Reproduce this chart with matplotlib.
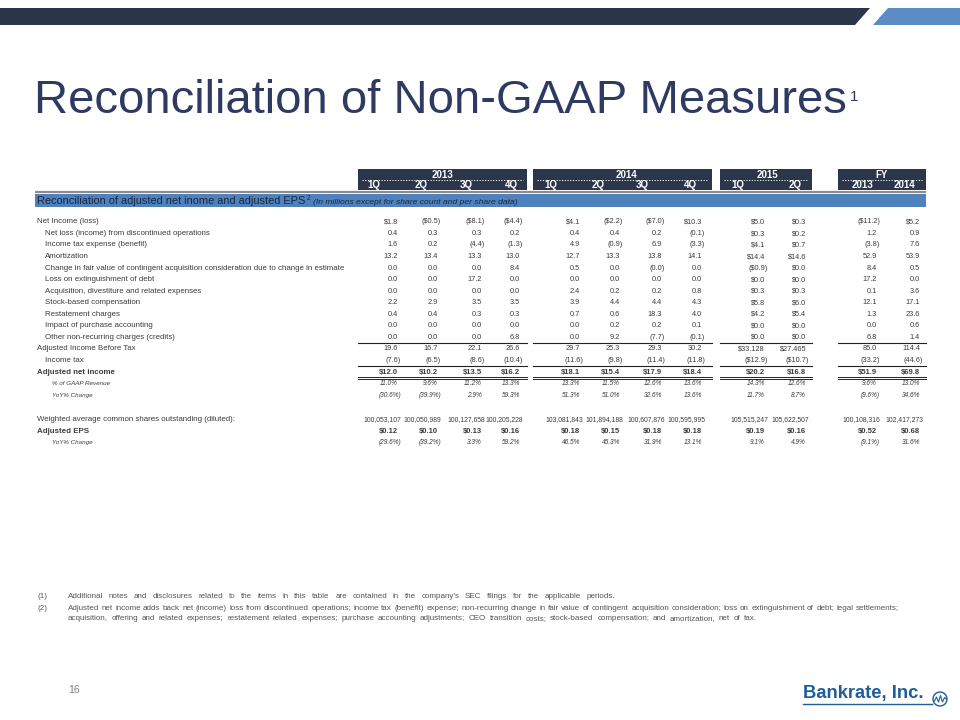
import matplotlib
matplotlib.use("Agg")
import matplotlib.pyplot as plt
from matplotlib.patches import Polygon, Rectangle, Circle

plt.rcParams['font.family'] = ['Liberation Sans', 'DejaVu Sans']

# ---------------- data ----------------
title = "Reconciliation of Non-GAAP Measures"
years = ["2013", "2014", "2015", "FY"]
quarters = ["1Q", "2Q", "3Q", "4Q", "1Q", "2Q", "3Q", "4Q", "1Q", "2Q", "2013", "2014"]

banner_text = "Reconciliation of adjusted net inome and adjusted EPS"
banner_note = "(In millions except for share count and per share data)"

labels = [
    "Net Income (loss)",
    "Net loss (income) from discontinued operations",
    "Income tax expense (benefit)",
    "Amortization",
    "Change in fair value of contingent acquisition consideration due to change in estimate",
    "Loss on extinguishment of debt",
    "Acquisition, divestiture and related expenses",
    "Stock-based compensation",
    "Restatement charges",
    "Impact of purchase accounting",
    "Other non-recurring charges (credits)",
    "Adjusted Income Before Tax",
    "Income tax",
    "Adjusted net income",
    "% of GAAP Revenue",
    "YoY% Change",
    "Weighted average common shares outstanding (diluted):",
    "Adjusted EPS",
    "YoY% Change",
]

net_income = ["$1.8", "($0.5)", "($8.1)", "($4.4)", "$4.1", "($2.2)", "($7.0)", "$10.3", "$5.0", "$0.3", "($11.2)", "$5.2"]
disc_ops = ["0.4", "0.3", "0.3", "0.2", "0.4", "0.4", "0.2", "(0.1)", "$0.3", "$0.2", "1.2", "0.9"]
income_tax_exp = ["1.6", "0.2", "(4.4)", "(1.3)", "4.9", "(0.9)", "6.9", "(3.3)", "$4.1", "$0.7", "(3.8)", "7.6"]
amortization = ["13.2", "13.4", "13.3", "13.0", "12.7", "13.3", "13.8", "14.1", "$14.4", "$14.6", "52.9", "53.9"]
fair_value_chg = ["0.0", "0.0", "0.0", "8.4", "0.5", "0.0", "(0.0)", "0.0", "($0.9)", "$0.0", "8.4", "0.5"]
debt_loss = ["0.0", "0.0", "17.2", "0.0", "0.0", "0.0", "0.0", "0.0", "$0.0", "$0.0", "17.2", "0.0"]
acquisition = ["0.0", "0.0", "0.0", "0.0", "2.4", "0.2", "0.2", "0.8", "$0.3", "$0.3", "0.1", "3.6"]
stock_comp = ["2.2", "2.9", "3.5", "3.5", "3.9", "4.4", "4.4", "4.3", "$5.8", "$6.0", "12.1", "17.1"]
restatement = ["0.4", "0.4", "0.3", "0.3", "0.7", "0.6", "18.3", "4.0", "$4.2", "$5.4", "1.3", "23.6"]
purchase_acct = ["0.0", "0.0", "0.0", "0.0", "0.0", "0.2", "0.2", "0.1", "$0.0", "$0.0", "0.0", "0.6"]
other_nonrec = ["0.0", "0.0", "0.0", "6.8", "0.0", "9.2", "(7.7)", "(0.1)", "$0.0", "$0.0", "6.8", "1.4"]
adj_before_tax = ["19.6", "16.7", "22.1", "26.6", "29.7", "25.3", "29.3", "30.2", "$33.128", "$27.465", "85.0", "114.4"]
income_tax = ["(7.6)", "(6.5)", "(8.6)", "(10.4)", "(11.6)", "(9.8)", "(11.4)", "(11.8)", "($12.9)", "($10.7)", "(33.2)", "(44.6)"]
adj_net_income = ["$12.0", "$10.2", "$13.5", "$16.2", "$18.1", "$15.4", "$17.9", "$18.4", "$20.2", "$16.8", "$51.9", "$69.8"]
pct_revenue = ["11.0%", "9.6%", "11.2%", "13.3%", "13.3%", "11.5%", "12.6%", "13.6%", "14.3%", "12.6%", "9.6%", "13.0%"]
yoy_income = ["(30.6%)", "(39.9%)", "2.9%", "59.3%", "51.3%", "51.0%", "32.6%", "13.6%", "11.7%", "8.7%", "(9.6%)", "34.6%"]
shares = ["100,053,107", "100,050,989", "100,127,658", "100,205,228", "103,081,843", "101,894,188", "100,607,876",
          "100,595,995", "105,515,247", "105,622,507", "100,108,316", "102,417,273"]
adj_eps = ["$0.12", "$0.10", "$0.13", "$0.16", "$0.18", "$0.15", "$0.18", "$0.18", "$0.19", "$0.16", "$0.52", "$0.68"]
yoy_eps = ["(29.6%)", "(39.2%)", "3.3%", "59.2%", "46.5%", "45.3%", "31.9%", "13.1%", "9.1%", "4.9%", "(9.1%)", "31.6%"]

row_values = [net_income, disc_ops, income_tax_exp, amortization, fair_value_chg, debt_loss, acquisition,
              stock_comp, restatement, purchase_acct, other_nonrec, adj_before_tax, income_tax, adj_net_income,
              pct_revenue, yoy_income, shares, adj_eps, yoy_eps]
row_styles = ["main"] + ["sub"] * 10 + ["main", "sub", "bold", "ital", "ital", "shares", "bold", "ital"]

footnotes = [
    ("(1)", "Additional notes and disclosures related to the items in this table are contained in the company's SEC filings for the applicable periods."),
    ("(2)", "Adjusted net income adds back net (income) loss from discontinued operations; income tax (benefit) expense; non-recurring change in fair value of contingent acquisition consideration; loss on extinguishment of debt; legal settlements;"),
    ("", "acquisition, offering and related expenses; restatement related expenses; purchase accounting adjustments; CEO transition costs; stock-based compensation; and amortization, net of tax."),
]
page_number = "16"
logo_text = "Bankrate, Inc."

# ---------------- layout ----------------
NAVY = "#2B364B"
TITLE_C = "#2E3A62"
BLUE = "#4F81BD"
LIGHT_BLUE = "#5B8CC6"
TXT = "#3C3C3C"

fig = plt.figure(figsize=(9.6, 7.2), dpi=100)
ax = fig.add_axes([0, 0, 1, 1])
ax.set_xlim(0, 960)
ax.set_ylim(720, 0)
ax.axis("off")
renderer = fig.canvas.get_renderer()

def right_px(t):
    return t.get_window_extent(renderer=renderer).x1

def width_px(t):
    bb = t.get_window_extent(renderer=renderer)
    return bb.x1 - bb.x0

# top bar
ax.add_patch(Polygon([(0, 8), (870, 8), (855, 25), (0, 25)], closed=True, color=NAVY, lw=0))
ax.add_patch(Polygon([(888, 8), (960, 8), (960, 25), (873, 25)], closed=True, color=LIGHT_BLUE, lw=0))

# title
t = ax.text(34, 113, title, fontsize=34, color=TITLE_C, va="baseline", ha="left")
ax.text(right_px(t) + 3, 101, "1", fontsize=11, color=TITLE_C, va="baseline", ha="left")

# header boxes
col_x = [398, 438, 482, 520, 580, 620, 662, 702, 765, 806, 877, 920]
hdr_x = [374, 421, 466, 511, 551, 598, 642, 690, 738, 795, 862, 905]
group_spans = [(358, 527), (533, 712), (720, 812), (838, 926)]
year_x = [443, 626, 767, 882]

ax.plot([35, 926], [191.5, 191.5], color="#8C8C8C", lw=1.6, solid_capstyle="butt")
for (x0, x1), yr, yx in zip(group_spans, years, year_x):
    ax.add_patch(Rectangle((x0, 169), x1 - x0, 21, color=NAVY, lw=0))
    ax.plot([x0 + 4, x1 - 4], [180.3, 180.3], color="white", lw=0.7, linestyle=(0, (1.2, 1.6)))
    ax.text(yx, 178.3, yr, fontsize=7.0, color="white", fontweight="bold", ha="center", va="baseline")
for q, qx in zip(quarters, hdr_x):
    ax.text(qx, 188.3, q, fontsize=7.0, color="white", fontweight="bold", ha="center", va="baseline")

# banner
ax.add_patch(Rectangle((35, 194), 891, 12.5, color=BLUE, lw=0))
bt = ax.text(37, 203.9, banner_text, fontsize=7.9, color="#1B2640", ha="left", va="baseline")
st = ax.text(right_px(bt) + 1, 199.5, "2", fontsize=4.7, color="#1B2640", ha="left", va="baseline")
ax.text(right_px(st) + 3, 203.6, banner_note, fontsize=6.1, color="#1B2640", style="italic",
        ha="left", va="baseline")

# rows
row_y = [221, 232.6, 244.1, 255.7, 267.2, 278.8, 290.3, 301.9, 313.4, 325.0, 336.5,
         348.1, 359.6, 371.2, 383.0, 394.8, 418.3, 429.9, 441.5]
label_x = {"main": 37, "sub": 45, "bold": 37, "ital": 52, "shares": 37}
for lab, vals, sty, y in zip(labels, row_values, row_styles, row_y):
    base = y + 2.4
    if sty == "bold":
        ax.text(label_x[sty], base + 0.3, lab, fontsize=5.7, color=TXT, fontweight="bold", ha="left", va="baseline")
    elif sty == "ital":
        ax.text(label_x[sty], base - 0.3, lab, fontsize=4.5, color=TXT, style="italic", ha="left", va="baseline")
    else:
        ax.text(label_x[sty], base, lab, fontsize=5.65, color=TXT, ha="left", va="baseline")
    for v, x in zip(vals, col_x):
        xx = x + 3 if v.endswith(")") else x
        if sty == "bold":
            ax.text(xx, base + 0.3, v, fontsize=5.5, color=TXT, fontweight="bold", ha="right", va="baseline")
        elif sty == "ital":
            ax.text(xx, base - 0.3, v, fontsize=4.7, color=TXT, style="italic", ha="right", va="baseline")
        elif sty == "shares":
            ax.text(xx + 3, base, v, fontsize=4.9, color=TXT, ha="right", va="baseline")
        else:
            ax.text(xx, base, v, fontsize=5.3, color=TXT, ha="right", va="baseline")

# rule lines
for (x0, x1) in group_spans:
    ax.plot([x0, x1], [342.6, 342.6], color="#222222", lw=0.8)
    ax.plot([x0, x1], [365.6, 365.6], color="#222222", lw=0.8)
    ax.plot([x0, x1], [377.0, 377.0], color="#222222", lw=0.7)
    ax.plot([x0, x1], [379.2, 379.2], color="#222222", lw=0.7)

# footnotes, words spread to the reference line lengths
FN_SIZE = 5.75
FN_C = "#555555"
fn_targets = [615, 899, 757]
for (num, txt), y, target in zip(footnotes, [598, 609.5, 620.5], fn_targets):
    if num:
        ax.text(37, y, num, fontsize=FN_SIZE, color=FN_C, ha="left", va="baseline")
    words = txt.split(" ")
    items = [ax.text(0, y, w, fontsize=FN_SIZE, color=FN_C, ha="left", va="baseline") for w in words]
    widths = [width_px(it) for it in items]
    gap = max((target - 68 - sum(widths)) / (len(words) - 1), 1.2)
    x = 68
    for it, w in zip(items, widths):
        it.set_x(x)
        x += w + gap

# page number
ax.text(68, 693, page_number, fontsize=7.5, color="#7F7F7F", ha="left", va="baseline")

# logo
ax.text(803, 698, logo_text, fontsize=13.2, color="#1E5D9C", fontweight="bold", ha="left", va="baseline")
ax.plot([803, 932], [704, 704], color="#1E5D9C", lw=1.0)
ax.add_patch(Circle((940, 699), 7, fill=False, edgecolor="#1E5D9C", lw=1.0))
ax.plot([934.5, 936.5, 938.5, 940.5, 942.5, 944.5, 946], [701, 697, 702, 695.5, 702, 697.5, 699],
        color="#1E5D9C", lw=0.8)

fig.savefig("out.png", dpi=100)
